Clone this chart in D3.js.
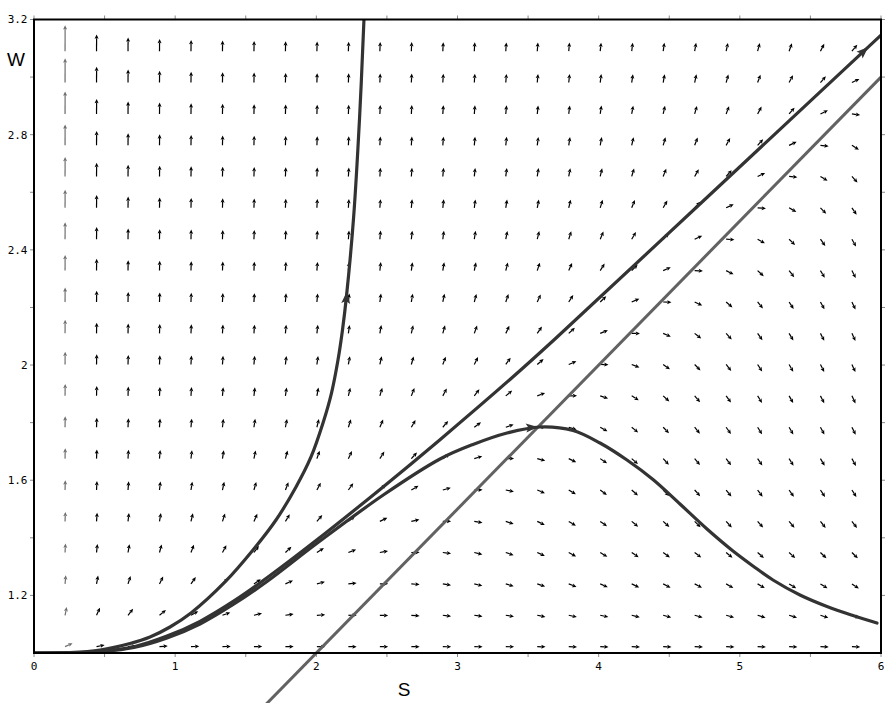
<!DOCTYPE html>
<html><head><meta charset="utf-8">
<script src="https://cdn.jsdelivr.net/npm/d3@7"></script>
<style>html,body{margin:0;padding:0;background:#fff;} svg{display:block;}</style>
</head><body><svg id="chart" width="886" height="703"></svg>
<script>
// ---------- data ----------
const xTicks = [0,0.5,1,1.5,2,2.5,3,3.5,4,4.5,5,5.5,6];
const xLabels = [0,1,2,3,4,5,6];
const yTicks = [1.2,1.4,1.6,1.8,2,2.2,2.4,2.6,2.8,3,3.2];
const yLabels = [1.2,1.6,2,2.4,2.8,3.2];
const xTitle = "S";
const yTitle = "W";

// direction-field grid (S columns, W rows) and slope dW/dS read at each grid point
const gridS = [0.220,0.443,0.666,0.889,1.112,1.335,1.558,1.781,2.004,2.227,2.450,2.673,2.896,3.119,3.342,3.565,3.788,4.011,4.234,4.457,4.680,4.903,5.126,5.349,5.571,5.794];
const gridW = [1.022,1.131,1.240,1.349,1.457,1.566,1.675,1.784,1.893,2.002,2.110,2.219,2.328,2.437,2.546,2.655,2.763,2.872,2.981,3.090];
const slopeGrid = [
 [0.23,0.10,0.06,0.04,0.02,0.015,0.008,0.004,0,-0.002,-0.005,-0.006,-0.008,-0.01,-0.011,-0.012,-0.013,-0.013,-0.014,-0.015,-0.015,-0.016,-0.017,-0.017,-0.017,-0.018],
 [2.43,1.08,0.63,0.40,0.27,0.18,0.12,0.07,0.03,0,-0.02,-0.04,-0.06,-0.07,-0.08,-0.10,-0.11,-0.11,-0.12,-0.13,-0.14,-0.14,-0.15,-0.15,-0.16,-0.16],
 [5.79,2.59,1.53,1.01,0.69,0.48,0.33,0.22,0.13,0.06,0.01,-0.04,-0.08,-0.12,-0.15,-0.17,-0.19,-0.22,-0.23,-0.25,-0.26,-0.28,-0.29,-0.30,-0.31,-0.32],
 [10.2,4.61,2.76,1.84,1.29,0.92,0.66,0.47,0.31,0.19,0.09,0.01,-0.06,-0.12,-0.17,-0.22,-0.26,-0.30,-0.33,-0.36,-0.38,-0.41,-0.43,-0.45,-0.47,-0.48],
 [15.6,7.10,4.29,2.90,2.06,1.51,1.11,0.81,0.58,0.39,0.24,0.12,0.01,-0.08,-0.16,-0.23,-0.29,-0.35,-0.40,-0.44,-0.48,-0.52,-0.55,-0.58,-0.61,-0.63],
 [22.1,10.1,6.17,4.21,3.03,2.24,1.68,1.26,0.94,0.68,0.46,0.29,0.14,0.01,-0.10,-0.20,-0.29,-0.37,-0.43,-0.50,-0.55,-0.60,-0.65,-0.69,-0.73,-0.77],
 [29.7,13.7,8.40,5.77,4.19,3.15,2.40,1.84,1.40,1.05,0.77,0.53,0.33,0.15,0.01,-0.13,-0.24,-0.34,-0.43,-0.52,-0.59,-0.66,-0.72,-0.78,-0.83,-0.88],
 [38.3,17.8,11.0,7.59,5.56,4.21,3.25,2.53,1.97,1.52,1.15,0.84,0.58,0.36,0.17,0.00,-0.15,-0.28,-0.40,-0.50,-0.60,-0.69,-0.77,-0.84,-0.91,-0.97],
 [48.1,22.4,13.9,9.67,7.14,5.45,4.25,3.34,2.64,2.08,1.62,1.24,0.91,0.63,0.40,0.18,0.00,-0.17,-0.31,-0.45,-0.57,-0.68,-0.78,-0.87,-0.95,-1.03],
 [59.1,27.6,17.2,12.0,8.93,6.87,5.39,4.29,3.43,2.74,2.18,1.71,1.31,0.97,0.68,0.42,0.20,-0.01,-0.19,-0.35,-0.50,-0.63,-0.75,-0.86,-0.97,-1.06],
 [71.1,33.3,20.9,14.7,10.9,8.45,6.68,5.35,4.32,3.50,2.82,2.26,1.79,1.38,1.03,0.72,0.45,0.20,-0.01,-0.21,-0.38,-0.54,-0.69,-0.82,-0.95,-1.06],
 [84.4,39.7,24.9,17.6,13.2,10.2,8.13,6.56,5.35,4.37,3.57,2.91,2.34,1.86,1.44,1.08,0.76,0.47,0.21,-0.02,-0.23,-0.42,-0.59,-0.75,-0.89,-1.03],
 [98.9,46.7,29.4,20.8,15.6,12.2,9.75,7.92,6.49,5.35,4.42,3.64,2.98,2.42,1.93,1.50,1.12,0.79,0.49,0.22,-0.02,-0.25,-0.45,-0.63,-0.81,-0.96],
 [115,54.2,34.2,24.3,18.3,14.4,11.5,9.41,7.76,6.44,5.36,4.46,3.70,3.05,2.49,1.99,1.55,1.17,0.82,0.51,0.23,-0.03,-0.27,-0.48,-0.68,-0.86],
 [132,62.4,39.5,28.1,21.3,16.7,13.5,11.1,9.16,7.65,6.41,5.38,4.51,3.76,3.11,2.55,2.05,1.60,1.20,0.85,0.52,0.23,-0.04,-0.28,-0.51,-0.72],
 [150,71.2,45.2,32.2,24.5,19.3,15.6,12.8,10.7,8.97,7.56,6.39,5.40,4.55,3.82,3.17,2.60,2.10,1.65,1.24,0.87,0.54,0.23,-0.05,-0.30,-0.54],
 [169,80.6,51.2,36.6,27.9,22.0,17.9,14.8,12.3,10.4,8.81,7.49,6.37,5.41,4.59,3.86,3.22,2.65,2.14,1.68,1.27,0.89,0.55,0.23,-0.06,-0.32],
 [190,90.6,57.7,41.4,31.5,25.0,20.3,16.9,14.1,12.0,10.2,8.70,7.45,6.37,5.45,4.63,3.91,3.27,2.70,2.19,1.72,1.30,0.91,0.56,0.24,-0.07],
 [212,101,64.7,46.4,35.5,28.2,23.0,19.1,16.1,13.6,11.7,10.0,8.61,7.41,6.38,5.47,4.67,3.95,3.32,2.75,2.23,1.76,1.33,0.93,0.57,0.24],
 [236,113,72.1,51.8,39.7,31.6,25.8,21.5,18.1,15.5,13.3,11.4,9.87,8.54,7.39,6.38,5.50,4.71,4.00,3.37,2.79,2.27,1.79,1.36,0.95,0.58]
];

// solution curves [S, W]
const curveA = [[0,1],[0.255,1.0017],[0.4675,1.0104],[0.680,1.033],[0.8217,1.0556],[0.9634,1.0903],[1.1122,1.1389],[1.353,1.2466],[1.5513,1.3577],[1.7143,1.4619],[1.8559,1.5765],[1.9622,1.6807],[2.0472,1.7988],[2.1074,1.9029],[2.1534,2.0175],[2.1853,2.1217],[2.2137,2.2398],[2.2632,2.5072],[2.3058,2.8545],[2.3376,3.2018],[2.342,3.26]];
const curveB = [[0,1],[0.255,1.001],[0.4675,1.0052],[0.7084,1.0219],[0.9421,1.0587],[1.1759,1.1101],[1.4167,1.1809],[1.6505,1.2612],[2.0047,1.3931],[2.4793,1.5793],[2.876,1.7408],[3.3718,1.9498],[3.6906,2.0905],[4.7177,2.5593],[6.0,3.146]];
const curveC = [[0,1],[0.255,1.0007],[0.4675,1.0042],[0.7084,1.0191],[0.9421,1.0521],[1.1759,1.1007],[1.4167,1.1702],[1.6505,1.2483],[2.0047,1.381],[2.4793,1.5504],[2.876,1.6737],[3.1097,1.7241],[3.3506,1.764],[3.5843,1.7849],[3.818,1.7727],[4.0094,1.7293],[4.2006,1.6702],[4.3848,1.6025],[4.576,1.5174],[4.7673,1.4306],[4.9515,1.3542],[5.0932,1.3021],[5.2348,1.2535],[5.4261,1.2014],[5.6173,1.1615],[5.8015,1.1302],[5.9715,1.1042]];
const curveArrowS = [2.217, 5.91, 3.57];   // arrow tip positions on A, B, C
const nullcline = [[1.6,0.8],[6,3]];         // W = S/2

// ---------- drawing ----------
const svg = d3.select("#chart");
const x = d3.scaleLinear().domain([0,6]).range([34,881]);
const y = d3.scaleLinear().domain([1,3.2]).range([653,19.5]);
const len = d3.scaleLinear().domain([1,236]).range([8.3,26]);

svg.append("defs").append("clipPath").attr("id","plotclip")
  .append("rect").attr("x",x(0)).attr("y",y(3.2)).attr("width",x(6)-x(0)).attr("height",y(1)-y(3.2));

// ticks
const tk = svg.append("g").attr("stroke","#8a8a8a").attr("stroke-width",1);
xTicks.forEach(t=>{
  tk.append("line").attr("x1",x(t)).attr("x2",x(t)).attr("y1",y(1)).attr("y2",y(1)+4);
  tk.append("line").attr("x1",x(t)).attr("x2",x(t)).attr("y1",y(3.2)).attr("y2",y(3.2)-4);
});
yTicks.forEach(t=>{
  tk.append("line").attr("x1",x(0)).attr("x2",x(0)-4).attr("y1",y(t)).attr("y2",y(t));
  tk.append("line").attr("x1",x(6)).attr("x2",x(6)+4).attr("y1",y(t)).attr("y2",y(t));
});

// tick labels
const lab = svg.append("g").attr("font-family","'DejaVu Sans Mono', monospace").attr("font-size",11).attr("fill","#000");
xLabels.forEach(t=>{
  lab.append("text").attr("x",x(t)).attr("y",669.5).attr("text-anchor","middle").text(String(t));
});
yLabels.forEach(t=>{
  lab.append("text").attr("x",27.5).attr("y",y(t)).attr("dy","0.35em").attr("text-anchor","end").text(String(t));
});

// axis titles
svg.append("text").attr("x",16).attr("y",66).attr("text-anchor","middle")
  .attr("font-family","'Liberation Sans', Arial, sans-serif").attr("font-size",19).text(yTitle);
svg.append("text").attr("x",404).attr("y",696).attr("text-anchor","middle")
  .attr("font-family","'Liberation Sans', Arial, sans-serif").attr("font-size",19).text(xTitle);

// direction field
const field = svg.append("g");
gridW.forEach((w,k)=>{
  gridS.forEach((s,j)=>{
    const g = slopeGrid[k][j];
    const x0 = x(s), y0 = y(w);
    const dx = x(s+0.01)-x0, dy = y(w+0.01*g)-y0;
    const n = Math.hypot(dx,dy);
    const ux = dx/n, uy = dy/n;
    const L = len(Math.hypot(1,g));
    const tx = x0+ux*L, ty = y0+uy*L;
    const h = 4.3, hw = 2.0;
    const bx = tx-ux*h, by = ty-uy*h;
    const col = j===0 ? "#6e6e6e" : "#000";
    field.append("line").attr("x1",x0).attr("y1",y0).attr("x2",bx+ux*0.6).attr("y2",by+uy*0.6)
      .attr("stroke",col).attr("stroke-width",1.2);
    field.append("path").attr("d",`M${tx},${ty}L${bx-uy*hw},${by+ux*hw}L${bx+ux*0.8},${by+uy*0.8}L${bx+uy*hw},${by-ux*hw}Z`)
      .attr("fill",col);
  });
});

// nullcline (not clipped, runs below the axis)
const line = d3.line().x(d=>x(d[0])).y(d=>y(d[1]));
svg.append("path").attr("d",line(nullcline)).attr("fill","none")
  .attr("stroke","#626262").attr("stroke-width",3);

// solution curves
const smooth = d3.line().x(d=>x(d[0])).y(d=>y(d[1])).curve(d3.curveCatmullRom.alpha(0.5));
const curves = [curveA, curveB, curveC];
const cg = svg.append("g").attr("clip-path","url(#plotclip)");
curves.forEach((c,i)=>{
  const p = cg.append("path").attr("d",smooth(c)).attr("fill","none")
    .attr("stroke","#333").attr("stroke-width",3.2).attr("stroke-linecap","round");
  const node = p.node(), total = node.getTotalLength();
  const targetX = x(curveArrowS[i]);
  let lo = 0, hi = total;
  for (let it=0; it<40; it++){
    const mid = (lo+hi)/2;
    if (node.getPointAtLength(mid).x < targetX) lo = mid; else hi = mid;
  }
  const tip = node.getPointAtLength(lo);
  const back = node.getPointAtLength(Math.max(0, lo-3));
  let ux = tip.x-back.x, uy = tip.y-back.y; const n = Math.hypot(ux,uy); ux/=n; uy/=n;
  const h = 12, hw = 4.5;
  const bx = tip.x-ux*h, by = tip.y-uy*h;
  cg.append("path").attr("d",`M${tip.x},${tip.y}L${bx-uy*hw},${by+ux*hw}L${bx+ux*2.5},${by+uy*2.5}L${bx+uy*hw},${by-ux*hw}Z`)
    .attr("fill","#333");
});

// frame
svg.append("rect").attr("x",x(0)).attr("y",y(3.2)).attr("width",x(6)-x(0)).attr("height",y(1)-y(3.2))
  .attr("fill","none").attr("stroke","#000").attr("stroke-width",2);
</script>
</body></html>
